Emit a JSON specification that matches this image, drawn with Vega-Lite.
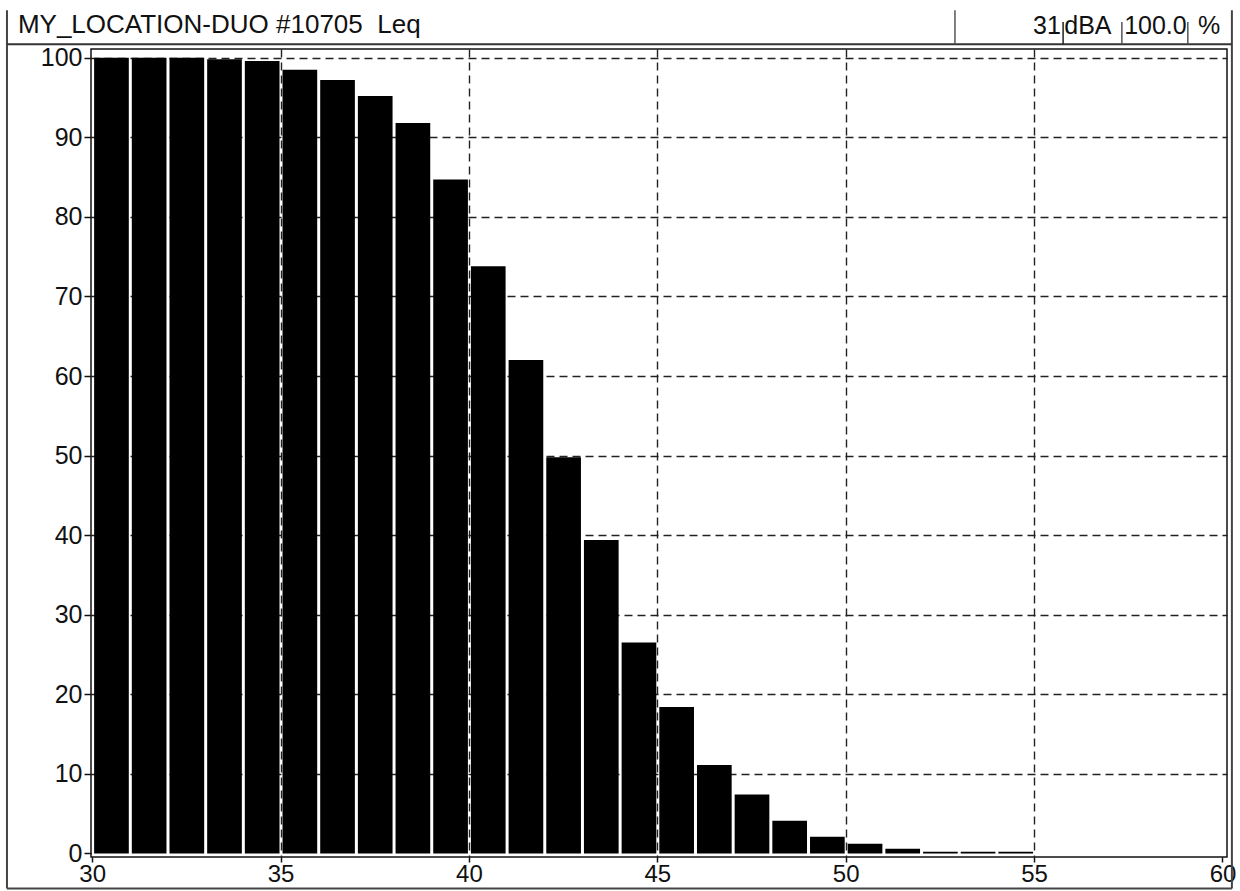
{
  "$schema": "https://vega.github.io/schema/vega-lite/v6.json",
  "width": 1136,
  "height": 808,
  "autosize": {"type": "none"},
  "padding": {"left": 91, "top": 49, "right": 13, "bottom": 34},
  "background": "white",
  "data": {
    "values": [
      {"from": 30, "to": 31, "percent": 100},
      {"from": 31, "to": 32, "percent": 100},
      {"from": 32, "to": 33, "percent": 100},
      {"from": 33, "to": 34, "percent": 99.8},
      {"from": 34, "to": 35, "percent": 99.6},
      {"from": 35, "to": 36, "percent": 98.5},
      {"from": 36, "to": 37, "percent": 97.2},
      {"from": 37, "to": 38, "percent": 95.2},
      {"from": 38, "to": 39, "percent": 91.8},
      {"from": 39, "to": 40, "percent": 84.7},
      {"from": 40, "to": 41, "percent": 73.8},
      {"from": 41, "to": 42, "percent": 62.0},
      {"from": 42, "to": 43, "percent": 49.8},
      {"from": 43, "to": 44, "percent": 39.4},
      {"from": 44, "to": 45, "percent": 26.5},
      {"from": 45, "to": 46, "percent": 18.4},
      {"from": 46, "to": 47, "percent": 11.1},
      {"from": 47, "to": 48, "percent": 7.4},
      {"from": 48, "to": 49, "percent": 4.1},
      {"from": 49, "to": 50, "percent": 2.1},
      {"from": 50, "to": 51, "percent": 1.2},
      {"from": 51, "to": 52, "percent": 0.6},
      {"from": 52, "to": 53, "percent": 0.2},
      {"from": 53, "to": 54, "percent": 0.2},
      {"from": 54, "to": 55, "percent": 0.2}
    ]
  },
  "layer": [
    {
      "mark": {"type": "bar", "color": "black", "binSpacing": 3},
      "encoding": {
        "x": {
          "field": "from",
          "type": "quantitative",
          "bin": "binned",
          "scale": {"domain": [29.97, 60.12], "nice": false, "zero": false},
          "axis": {
            "title": null,
            "values": [30, 35, 40, 45, 50, 55, 60],
            "format": "d",
            "labelFont": "Liberation Sans",
            "labelFontSize": 24,
            "labelColor": "#111",
            "labelFlush": true,
            "labelPadding": 0,
            "tickSize": 5,
            "tickColor": "#111",
            "tickWidth": 1.5,
            "domain": false,
            "grid": true,
            "gridColor": "#222",
            "gridDash": [8, 5],
            "gridWidth": 1.4,
            "gridOpacity": {"condition": {"test": "datum.value == 30 || datum.value == 60", "value": 0}, "value": 1}
          }
        },
        "x2": {"field": "to"},
        "y": {
          "field": "percent",
          "type": "quantitative",
          "scale": {"domain": [-0.45, 101.1], "nice": false, "zero": false},
          "axis": {
            "title": null,
            "values": [0, 10, 20, 30, 40, 50, 60, 70, 80, 90, 100],
            "labelFont": "Liberation Sans",
            "labelFontSize": 25,
            "labelColor": "#111",
            "labelPadding": 2,
            "tickSize": 7,
            "tickColor": "#111",
            "tickWidth": 1.5,
            "domain": false,
            "grid": true,
            "gridColor": "#222",
            "gridDash": [8, 5],
            "gridWidth": 1.4,
            "gridOpacity": {"condition": {"test": "datum.value == 0", "value": 0}, "value": 1}
          }
        }
      }
    },
    {
      "data": {"values": [{}]},
      "mark": {"type": "rule", "color": "#444", "strokeWidth": 2},
      "encoding": {
        "x": {"datum": 27.74, "type": "quantitative"},
        "y": {"datum": -4.4, "type": "quantitative"},
        "y2": {"datum": 105.96}
      }
    },
    {
      "data": {"values": [{}]},
      "mark": {"type": "rule", "color": "#444", "strokeWidth": 2},
      "encoding": {
        "x": {"datum": 60.25, "type": "quantitative"},
        "y": {"datum": -4.4, "type": "quantitative"},
        "y2": {"datum": 105.96}
      }
    },
    {
      "data": {"values": [{}]},
      "mark": {"type": "rule", "color": "#444", "strokeWidth": 2},
      "encoding": {
        "x": {"datum": 27.74, "type": "quantitative"},
        "x2": {"datum": 60.25},
        "y": {"datum": -4.4, "type": "quantitative"}
      }
    },
    {
      "data": {"values": [{}]},
      "mark": {"type": "rule", "color": "#333", "strokeWidth": 2},
      "encoding": {
        "x": {"datum": 27.74, "type": "quantitative"},
        "x2": {"datum": 60.25},
        "y": {"datum": 101.69, "type": "quantitative"}
      }
    },
    {
      "data": {"values": [{}]},
      "mark": {"type": "rule", "color": "#555", "strokeWidth": 1.5},
      "encoding": {
        "x": {"datum": 52.9, "type": "quantitative"},
        "y": {"datum": 101.69, "type": "quantitative"},
        "y2": {"datum": 105.96}
      }
    },
    {
      "data": {"values": [{}]},
      "mark": {"type": "rule", "color": "#222", "strokeWidth": 1.5},
      "encoding": {
        "x": {"datum": 55.77, "type": "quantitative"},
        "y": {"datum": 101.69, "type": "quantitative"},
        "y2": {"datum": 104.5}
      }
    },
    {
      "data": {"values": [{}]},
      "mark": {"type": "rule", "color": "#555", "strokeWidth": 1.5},
      "encoding": {
        "x": {"datum": 57.33, "type": "quantitative"},
        "y": {"datum": 101.69, "type": "quantitative"},
        "y2": {"datum": 104.5}
      }
    },
    {
      "data": {"values": [{}]},
      "mark": {"type": "rule", "color": "#555", "strokeWidth": 1.5},
      "encoding": {
        "x": {"datum": 59.08, "type": "quantitative"},
        "y": {"datum": 101.69, "type": "quantitative"},
        "y2": {"datum": 104.5}
      }
    },
    {
      "data": {"values": [{}]},
      "mark": {"type": "text", "text": "MY_LOCATION-DUO #10705\u00a0 Leq", "align": "left", "baseline": "alphabetic", "font": "Liberation Sans", "fontSize": 26, "color": "#111"},
      "encoding": {
        "x": {"datum": 28.03, "type": "quantitative"},
        "y": {"datum": 103.11, "type": "quantitative"}
      }
    },
    {
      "data": {"values": [{}]},
      "mark": {"type": "text", "text": "31", "align": "right", "baseline": "alphabetic", "font": "Liberation Sans", "fontSize": 25, "color": "#111"},
      "encoding": {
        "x": {"datum": 55.71, "type": "quantitative"},
        "y": {"datum": 102.99, "type": "quantitative"}
      }
    },
    {
      "data": {"values": [{}]},
      "mark": {"type": "text", "text": "dBA", "align": "left", "baseline": "alphabetic", "font": "Liberation Sans", "fontSize": 25, "color": "#111"},
      "encoding": {
        "x": {"datum": 55.8, "type": "quantitative"},
        "y": {"datum": 102.99, "type": "quantitative"}
      }
    },
    {
      "data": {"values": [{}]},
      "mark": {"type": "text", "text": "100.0", "align": "left", "baseline": "alphabetic", "font": "Liberation Sans", "fontSize": 25, "color": "#111"},
      "encoding": {
        "x": {"datum": 57.39, "type": "quantitative"},
        "y": {"datum": 102.99, "type": "quantitative"}
      }
    },
    {
      "data": {"values": [{}]},
      "mark": {"type": "text", "text": "%", "align": "left", "baseline": "alphabetic", "font": "Liberation Sans", "fontSize": 25, "color": "#111"},
      "encoding": {
        "x": {"datum": 59.35, "type": "quantitative"},
        "y": {"datum": 102.99, "type": "quantitative"}
      }
    }
  ],
  "config": {
    "view": {"stroke": "#111", "strokeWidth": 1.5}
  }
}
